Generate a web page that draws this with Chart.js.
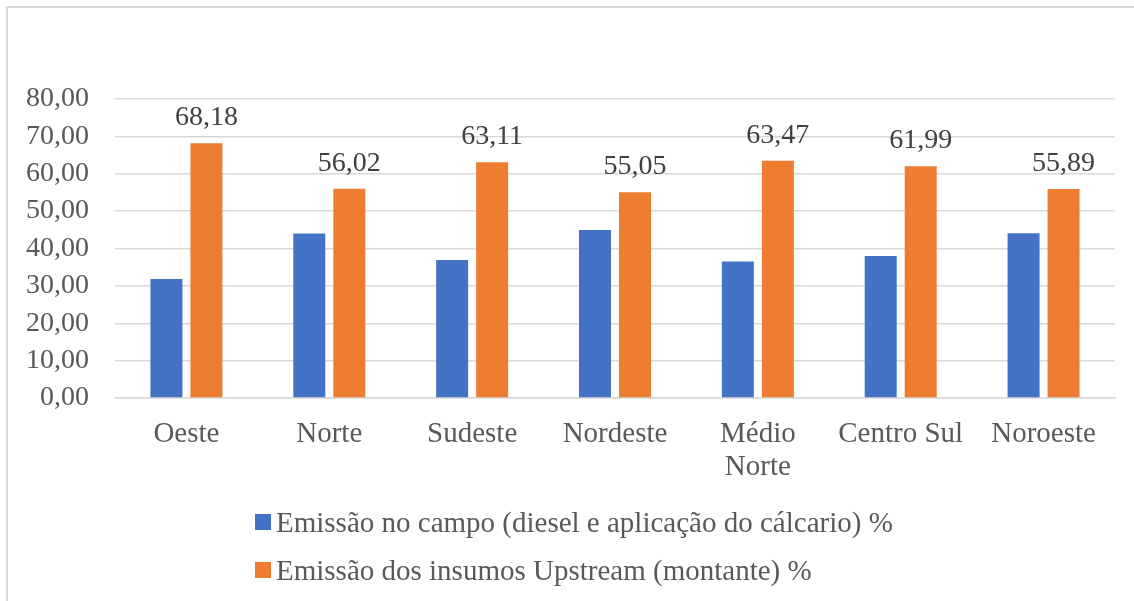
<!DOCTYPE html>
<html>
<head>
<meta charset="utf-8">
<script src="https://cdn.jsdelivr.net/npm/chart.js@4.4.0/dist/chart.umd.min.js"></script>
<style>
    body { margin: 0; background: #fff; }
    #wrap { position: relative; width: 1134px; height: 601px; overflow: hidden; }
    #frame { position: absolute; left: 6px; top: 6px; width: 1140px; height: 620px; border: 2px solid #d9d9d9; box-sizing: border-box; }
    #mainGraph { position: absolute; left: 0; top: 0; }
    #legend { position: absolute; left: 255px; top: 498px; font-family: 'Liberation Serif', 'Times New Roman', serif; font-size: 29px; color: #595959; }
    .legend-item { display: flex; align-items: center; height: 48px; }
    .legend-box { width: 16px; height: 16px; margin-right: 5px; }
</style>
</head>
<body>
<div id="wrap">
    <div id="frame"></div>
    <canvas id="mainGraph" width="1134" height="601"></canvas>
    <div id="legend"></div>
</div>
<script>
const regions = ["Oeste", "Norte", "Sudeste", "Nordeste", ["Médio", "Norte"], "Centro Sul", "Noroeste"]
const campoValues = [31.82, 43.98, 36.89, 44.95, 36.53, 38.01, 44.11]
const upstreamValues = [68.18, 56.02, 63.11, 55.05, 63.47, 61.99, 55.89]
const seriesNames = [
    "Emissão no campo (diesel e aplicação do cálcario) %",
    "Emissão dos insumos Upstream (montante) %"
]
const seriesColors = ["#4472C4", "#ED7D31"]

const fontFamily = "'Liberation Serif', 'Times New Roman', serif"
const formatNumber = (v) => v.toFixed(2).replace(".", ",")

const valueLabels = {
    id: "valueLabels",
    afterDatasetsDraw(chart) {
        const ctx = chart.ctx
        const meta = chart.getDatasetMeta(1)
        ctx.save()
        ctx.font = `28px ${fontFamily}`
        ctx.fillStyle = "#404040"
        ctx.textAlign = "center"
        ctx.textBaseline = "alphabetic"
        meta.data.forEach((bar, i) => {
            ctx.fillText(formatNumber(upstreamValues[i]), bar.x, bar.y - 18)
        })
        ctx.restore()
    }
}

const lineCanvas = document.getElementById("mainGraph")

new Chart(lineCanvas, {
    type: 'bar',
    data: {
        labels: regions,
        datasets: [
            {label: seriesNames[0], data: campoValues, backgroundColor: seriesColors[0]},
            {label: seriesNames[1], data: upstreamValues, backgroundColor: seriesColors[1]}
        ]
    },
    options: {
        responsive: false,
        animation: false,
        layout: {
            padding: {top: 99, left: 10, right: 19, bottom: 113}
        },
        datasets: {
            bar: {categoryPercentage: 0.56, barPercentage: 0.8}
        },
        scales: {
            y: {
                min: 0,
                max: 80,
                grid: {color: "#d9d9d9", lineWidth: 1.5, drawTicks: false},
                border: {display: false},
                ticks: {
                    stepSize: 10,
                    padding: 26,
                    color: "#595959",
                    font: {size: 28, family: fontFamily},
                    callback: (v) => formatNumber(v)
                },
                afterFit: (scale) => { scale.width = 105 }
            },
            x: {
                grid: {display: false},
                border: {color: "#d9d9d9", width: 1.5},
                ticks: {
                    color: "#595959",
                    padding: 12,
                    maxRotation: 0,
                    autoSkip: false,
                    font: {size: 29, family: fontFamily, lineHeight: 1.14}
                },
                afterFit: (scale) => { scale.height = 90 }
            }
        },
        plugins: {
            legend: {display: false},
            tooltip: {enabled: false}
        }
    },
    plugins: [valueLabels]
})

const legendEl = document.getElementById("legend")
seriesNames.forEach((name, i) => {
    const item = document.createElement("div")
    item.className = "legend-item"
    item.innerHTML = `<div class="legend-box" style="background:${seriesColors[i]}"></div><span>${name}</span>`
    legendEl.appendChild(item)
})
</script>
</body>
</html>
